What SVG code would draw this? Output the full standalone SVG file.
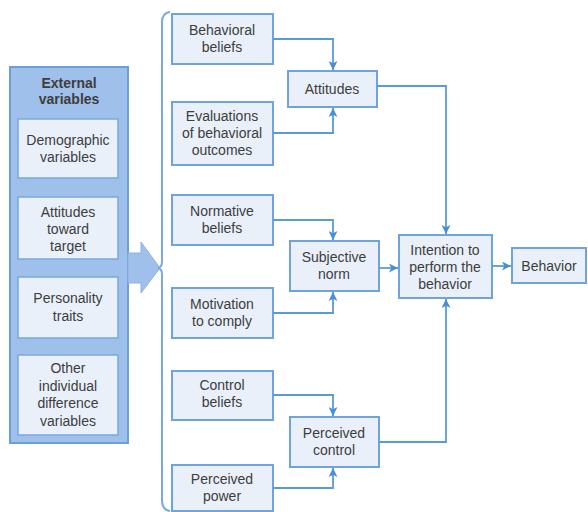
<svg xmlns="http://www.w3.org/2000/svg" width="588" height="512" viewBox="0 0 588 512">
  <defs>
    <marker id="arr" viewBox="0 0 10 10" refX="10" refY="5" markerWidth="9" markerHeight="9" markerUnits="userSpaceOnUse" orient="auto">
      <path d="M0,0 L10,5 L0,10 L2.5,5 Z" fill="#4a8fd6"/>
    </marker>
    <style>
      .box { fill: #e9f0fa; stroke: #6ea3dc; stroke-width: 2; }
      .outer { fill: #9fc0ea; stroke: #6a9fd8; stroke-width: 2; }
      .inner { fill: #e9f0fa; stroke: #7aa9de; stroke-width: 1.5; }
      text { font-family: "Liberation Sans", Arial, sans-serif; font-size: 14px; fill: #3d3d3d; text-anchor: middle; }
      .hdr { font-weight: bold; }
      .wire { fill: none; stroke: #5b9bd5; stroke-width: 1.8; }
    </style>
  </defs>

  <rect width="588" height="512" fill="#ffffff"/>

  <!-- external variables panel -->
  <g id="external">
    <rect class="outer" x="10" y="67" width="118" height="376"/>
    <text class="hdr" x="69" y="88">External</text>
    <text class="hdr" x="69" y="104">variables</text>
  </g>
  <g id="demographic">
    <rect class="inner" x="18" y="119" width="100" height="59"/>
    <text x="68" y="145">Demographic</text>
    <text x="68" y="162">variables</text>
  </g>
  <g id="attitudes-target">
    <rect class="inner" x="18" y="197" width="100" height="62"/>
    <text x="68" y="217">Attitudes</text>
    <text x="68" y="234">toward</text>
    <text x="68" y="251">target</text>
  </g>
  <g id="personality">
    <rect class="inner" x="18" y="277" width="100" height="61"/>
    <text x="68" y="303">Personality</text>
    <text x="68" y="321">traits</text>
  </g>
  <g id="other">
    <rect class="inner" x="18" y="355" width="100" height="80"/>
    <text x="68" y="373">Other</text>
    <text x="68" y="391">individual</text>
    <text x="68" y="408">difference</text>
    <text x="68" y="426">variables</text>
  </g>

  <!-- broad arrow into the brace -->
  <g id="big-arrow">
    <path d="M128,253 L141,253 L141,242 L160,268 L141,293 L141,283 L128,283 Z" fill="#9fc0ea" stroke="#8db3e4" stroke-width="1"/>
  </g>

  <!-- curly brace -->
  <g id="brace">
    <path d="M170,12 Q162,13 162,22 L162,262 Q162,267 158,268 Q162,269 162,274 L162,500 Q162,510 170,511" fill="none" stroke="#7aa9de" stroke-width="2"/>
  </g>

  <!-- belief boxes -->
  <g id="behavioral-beliefs">
    <rect class="box" x="172" y="14" width="101" height="50"/>
    <text x="222" y="35">Behavioral</text>
    <text x="222" y="52">beliefs</text>
  </g>
  <g id="evaluations">
    <rect class="box" x="172" y="102" width="101" height="63"/>
    <text x="222" y="121">Evaluations</text>
    <text x="222" y="138">of behavioral</text>
    <text x="222" y="155">outcomes</text>
  </g>
  <g id="normative-beliefs">
    <rect class="box" x="172" y="195" width="101" height="50"/>
    <text x="222" y="216">Normative</text>
    <text x="222" y="233">beliefs</text>
  </g>
  <g id="motivation">
    <rect class="box" x="172" y="288" width="101" height="50"/>
    <text x="222" y="309">Motivation</text>
    <text x="222" y="326">to comply</text>
  </g>
  <g id="control-beliefs">
    <rect class="box" x="172" y="371" width="101" height="49"/>
    <text x="222" y="390">Control</text>
    <text x="222" y="407">beliefs</text>
  </g>
  <g id="perceived-power">
    <rect class="box" x="172" y="465" width="101" height="46"/>
    <text x="222" y="484">Perceived</text>
    <text x="222" y="501">power</text>
  </g>

  <!-- constructs -->
  <g id="attitudes">
    <rect class="box" x="288" y="71" width="89" height="36"/>
    <text x="332" y="94">Attitudes</text>
  </g>
  <g id="subjective-norm">
    <rect class="box" x="290" y="241" width="89" height="50"/>
    <text x="334" y="262">Subjective</text>
    <text x="334" y="279">norm</text>
  </g>
  <g id="perceived-control">
    <rect class="box" x="290" y="417" width="89" height="50"/>
    <text x="334" y="438">Perceived</text>
    <text x="334" y="455">control</text>
  </g>
  <g id="intention">
    <rect class="box" x="399" y="235" width="93" height="63"/>
    <text x="445" y="255">Intention to</text>
    <text x="445" y="272">perform the</text>
    <text x="445" y="289">behavior</text>
  </g>
  <g id="behavior">
    <rect class="box" x="512" y="248" width="74" height="35"/>
    <text x="549" y="271">Behavior</text>
  </g>

  <!-- connectors -->
  <g id="connectors">
    <path class="wire" d="M273,39 L333,39 L333,70" marker-end="url(#arr)"/>
    <path class="wire" d="M273,133 L333,133 L333,108" marker-end="url(#arr)"/>
    <path class="wire" d="M273,220 L333,220 L333,240" marker-end="url(#arr)"/>
    <path class="wire" d="M273,313 L333,313 L333,292" marker-end="url(#arr)"/>
    <path class="wire" d="M273,395 L333,395 L333,416" marker-end="url(#arr)"/>
    <path class="wire" d="M273,488 L333,488 L333,468" marker-end="url(#arr)"/>
    <path class="wire" d="M377,86 L446,86 L446,234" marker-end="url(#arr)"/>
    <path class="wire" d="M379,268 L398,268" marker-end="url(#arr)"/>
    <path class="wire" d="M379,442 L446,442 L446,299" marker-end="url(#arr)"/>
    <path class="wire" d="M492,266 L511,266" marker-end="url(#arr)"/>
  </g>
</svg>
